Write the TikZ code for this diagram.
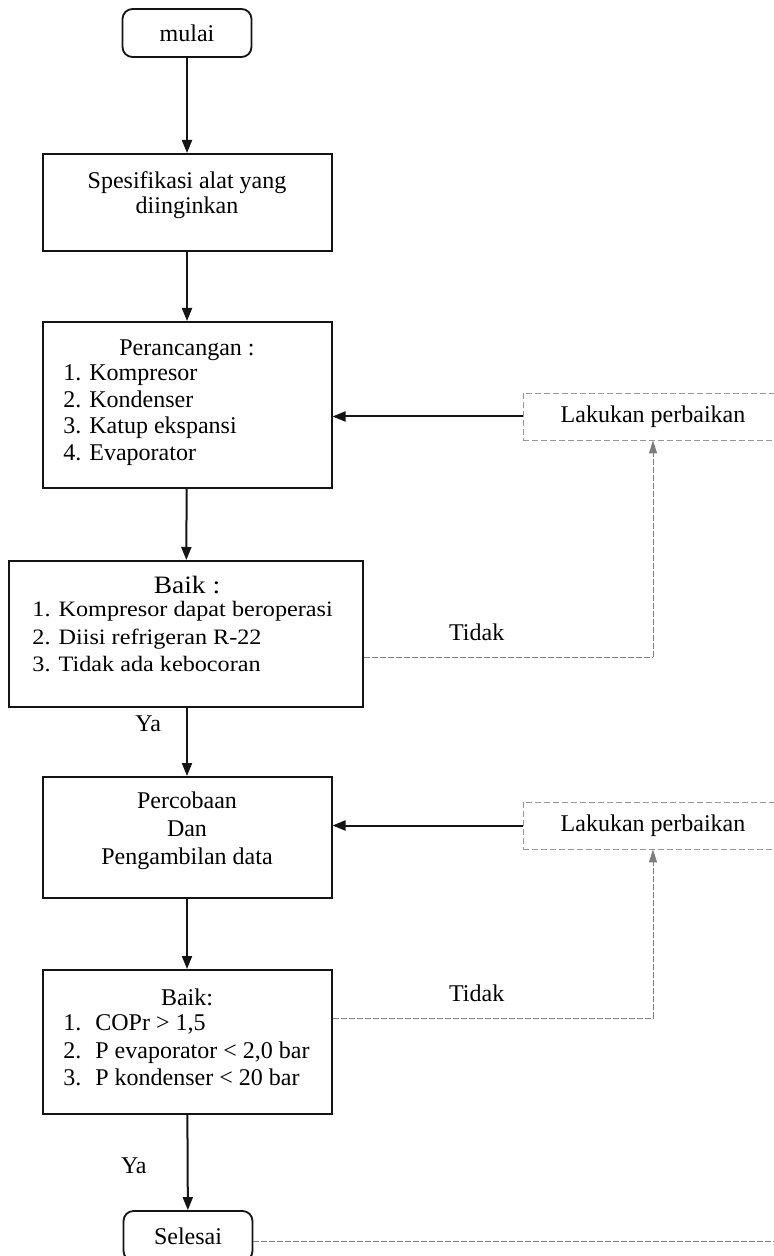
\documentclass[tikz,border=0pt]{standalone}
\usepackage{fontspec}
\setmainfont{Liberation Serif}
\newfontfamily\widefont[FakeStretch=1.1]{Liberation Serif}
\usepackage{xcolor}
\definecolor{BoxBorder}{RGB}{20,20,20}
\definecolor{LoopGray}{RGB}{125,125,125}
\definecolor{FixBorder}{RGB}{150,150,150}
\usepackage{tikz}
\usetikzlibrary{
  positioning,
  arrows.meta
}
\tikzset{
  % Start / end terminal
  term/.style={
    rectangle,
    rounded corners=5pt,
    draw=BoxBorder,
    line width=0.9pt,
    minimum width=64.5pt,
    minimum height=24pt,
    inner sep=0pt,
    font=\fontsize{12}{14}\selectfont
  },
  % Process box (text set separately)
  procbox/.style={
    rectangle,
    draw=BoxBorder,
    line width=1pt,
    minimum width=144.5pt,
    inner sep=0pt
  },
  % Repair box, faint dashed border
  fixbox/.style={
    rectangle,
    draw=FixBorder,
    line width=0.4pt,
    dash pattern=on 3pt off 1.5pt,
    minimum width=130pt,
    minimum height=23.5pt,
    inner sep=0pt,
    font=\fontsize{12}{14}\selectfont
  },
  % Text inside boxes
  boxtext/.style={
    inner sep=0pt,
    align=center,
    font=\fontsize{12}{13.5}\selectfont
  },
  % Numbered list inside boxes
  listtext/.style={
    inner sep=0pt,
    anchor=west,
    align=left,
    font=\fontsize{12}{13.75}\selectfont
  },
  % Edge label
  lbl/.style={
    inner sep=0pt,
    font=\fontsize{12}{14}\selectfont
  },
  % Main flow arrow
  flow/.style={
    draw=BoxBorder,
    line width=1pt,
    -{Triangle[length=6.5pt,width=5pt]}
  },
  % Loop back (Tidak) line
  back/.style={
    draw=LoopGray,
    line width=0.5pt,
    dash pattern=on 3pt off 1pt
  }
}
\begin{document}
\begin{tikzpicture}[x=0.5pt, y=-0.5pt]
  \useasboundingbox (0,0) rectangle (774,1256);

  % main column
  \node[term] (mulai) at (187,33) {mulai};

  \node[procbox, minimum height=48.5pt] (spec) at (187,202.5) {};
  \node[boxtext, font=\fontsize{12}{12.5}\selectfont] (spectxt) at (187,195.5) {Spesifikasi alat yang\\diinginkan};

  \node[procbox, minimum height=83pt] (peran) at (187,405) {};
  \node[boxtext] (peranhead) at (187,350) {Perancangan :};
  \node[listtext, font=\fontsize{12}{13.3}\selectfont] (peranlist) at (63,415) {1. Kompresor\\2. Kondenser\\3. Katup ekspansi\\4. Evaporator};

  \node[procbox, minimum width=177pt, minimum height=73pt] (baik1) at (186,634) {};
  \node[boxtext, font=\widefont\fontsize{12.5}{14}\selectfont] (baik1head) at (187,585) {Baik :};
  \node[listtext, font=\widefont\fontsize{11}{13.75}\selectfont] (baik1list) at (32,637) {1. Kompresor dapat beroperasi\\2. Diisi refrigeran R-22\\3. Tidak ada kebocoran};

  \node[procbox, minimum height=60.5pt] (perc) at (187,837.5) {};
  \node[boxtext, font=\fontsize{12}{14}\selectfont] (perctxt) at (187,831) {Percobaan\\Dan\\Pengambilan data};

  \node[procbox, minimum height=72pt] (baik2) at (187,1042) {};
  \node[boxtext] (baik2head) at (187,997) {Baik:};
  \node[listtext] (baik2list) at (63,1050.5) {\makebox[16pt][l]{1.}COPr > 1,5\\\makebox[16pt][l]{2.}P evaporator < 2,0 bar\\\makebox[16pt][l]{3.}P kondenser < 20 bar};

  \node[term, minimum height=25pt] (selesai) at (188,1236) {Selesai};

  % repair boxes
  \node[fixbox] (lak1) at (653,416.5) {Lakukan perbaikan};
  \node[fixbox] (lak2) at (653,825.5) {Lakukan perbaikan};

  \coordinate (t1) at (653,657);
  \coordinate (t2) at (653,1018);
  \coordinate (edge) at (780,1241);

  % arrows
  \draw[flow] (mulai) -- (spec);
  \draw[flow] (spec) -- (peran);
  \draw[flow] (peran) -- (baik1);
  \draw[flow] (baik1.south -| perc.north) -- node[lbl, pos=0.23, left=12.5pt] (ya1) {Ya} (perc.north);
  \draw[flow] (perc) -- (baik2);
  \draw[flow] (baik2) -- node[lbl, pos=0.53, left=20pt] (ya2) {Ya} (selesai);

  \draw[flow] (lak1.west) -- (lak1.west -| peran.east);
  \draw[flow] (lak2.west) -- (lak2.west -| perc.east);

  \draw[back] (baik1.east |- t1) -- node[lbl, pos=0.39, above=8pt] (tidak1) {Tidak} (t1);
  \draw[back, -{Triangle[length=6.5pt,width=4pt]}] (t1) -- (lak1.south);
  \draw[back] (baik2.east |- t2) -- node[lbl, pos=0.45, above=8pt] (tidak2) {Tidak} (t2);
  \draw[back, -{Triangle[length=6.5pt,width=4pt]}] (t2) -- (lak2.south);

  \draw[back] (selesai.east |- edge) -- (edge);
\end{tikzpicture}
\end{document}
